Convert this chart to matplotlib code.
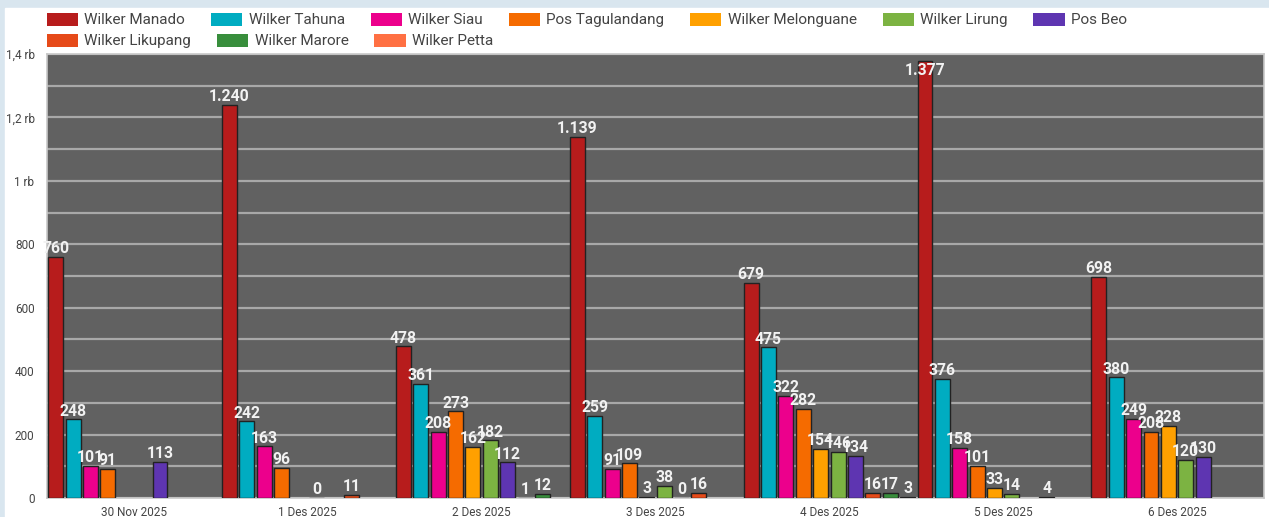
import matplotlib.pyplot as plt
from matplotlib.patches import Rectangle, Patch
import numpy as np

plt.rcParams['font.family'] = ['Roboto', 'DejaVu Sans']

dates = ['30 Nov 2025', '1 Des 2025', '2 Des 2025', '3 Des 2025',
         '4 Des 2025', '5 Des 2025', '6 Des 2025']

names = ['Wilker Manado', 'Wilker Tahuna', 'Wilker Siau', 'Pos Tagulandang',
         'Wilker Melonguane', 'Wilker Lirung', 'Pos Beo', 'Wilker Likupang',
         'Wilker Marore', 'Wilker Petta']

manado = [760, 1240, 478, 1139, 679, 1377, 698]
tahuna = [248, 242, 361, 259, 475, 376, 380]
siau = [101, 163, 208, 91, 322, 158, 249]
tagulandang = [91, 96, 273, 109, 282, 101, 208]
melonguane = [None, None, 162, 3, 154, 33, 228]
lirung = [None, 0, 182, 38, 146, 14, 120]
beo = [113, None, 112, 0, 134, None, 130]
likupang = [None, 11, 1, 16, 16, 4, None]
marore = [None, None, 12, None, 17, None, None]
petta = [None, None, None, None, 3, None, None]

series = [manado, tahuna, siau, tagulandang, melonguane, lirung, beo,
          likupang, marore, petta]
colors = ['#b71c1c', '#00acc1', '#ec008c', '#f56b00', '#ffa000', '#7cb342',
          '#5e35b1', '#e64a19', '#388e3c', '#ff7043']

fig = plt.figure(figsize=(12.69, 5.17), dpi=100, facecolor='#d9e6ef')
fig.patches.append(Rectangle((5 / 1269, 0), 1, (517 - 8) / 517,
                             transform=fig.transFigure, color='white', zorder=-5))
ax = fig.add_axes([47 / 1269, 1 - 498 / 517, (1264 - 47) / 1269, (498 - 54) / 517])
ax.set_facecolor('#616161')

n = len(series)
slot = 1.0 / n
x = np.arange(len(dates))
for i, (vals, c) in enumerate(zip(series, colors)):
    xs = x - 0.5 + slot * (i + 0.5)
    for xi, v in zip(xs, vals):
        if v is None:
            continue
        ax.bar(xi, v, width=slot * 0.86, color=c, edgecolor='#222222',
               linewidth=1, zorder=3)
        txt = f'{v:,}'.replace(',', '.')
        if v > 1300:
            ax.annotate(txt, (xi, v), xytext=(0, -1), textcoords='offset points',
                        ha='center', va='top', color='#f2f2f2', fontsize=11.3,
                        fontweight='bold', zorder=5)
        else:
            ax.annotate(txt, (xi, v), xytext=(0, 0.5), textcoords='offset points',
                        ha='center', va='bottom', color='#f2f2f2', fontsize=11.3,
                        fontweight='bold', zorder=5)

ax.set_xlim(-0.5, len(dates) - 0.5)
ax.set_ylim(0, 1400)
ax.set_yticks(np.arange(0, 1401, 100), minor=True)
ax.set_yticks(np.arange(0, 1401, 200))


def fmt(v):
    if v >= 1000:
        s = f'{v / 1000:g}'.replace('.', ',')
        return s + ' rb'
    return str(int(v))


ax.set_yticklabels([fmt(v) for v in np.arange(0, 1401, 200)])
ax.set_xticks(x)
ax.set_xticklabels(dates)
ax.tick_params(axis='both', which='both', length=0, labelsize=8.5, colors='#444444')
ax.tick_params(axis='x', pad=6)
ax.tick_params(axis='y', pad=9)
ax.grid(axis='y', which='both', color='#a8a8a8', linewidth=1.6, zorder=1)
ax.set_axisbelow(True)
for s in ax.spines.values():
    s.set_color('#c8c8c8')
    s.set_linewidth(1.2)

handles = [Patch(facecolor=c, edgecolor='none', label=nm) for c, nm in zip(colors, names)]
common = dict(frameon=False, fontsize=11, handlelength=2.05, handleheight=0.95,
              handletextpad=0.4, columnspacing=1.7, borderaxespad=0,
              borderpad=0, labelcolor='#444444')
leg1 = fig.legend(handles=handles[:7], ncol=7, loc='center left',
                  bbox_to_anchor=(47 / 1269, 1 - 20 / 517), **common)
leg2 = fig.legend(handles=handles[7:], ncol=3, loc='center left',
                  bbox_to_anchor=(47 / 1269, 1 - 41 / 517), **common)

fig.savefig('out.png', dpi=100, facecolor=fig.get_facecolor())
